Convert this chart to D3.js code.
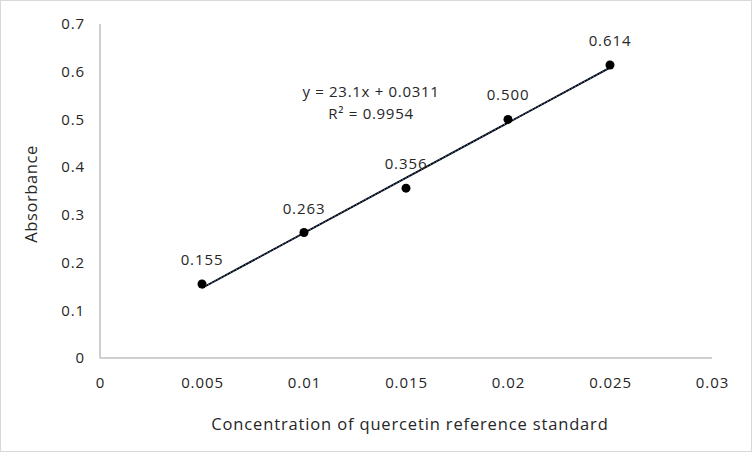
<!DOCTYPE html>
<html><head><meta charset="utf-8">
<script src="https://cdn.jsdelivr.net/npm/d3@7"></script>
<style>body{margin:0;background:#fff}svg{display:block}</style>
</head><body>
<svg id="c" width="752" height="452"></svg>
<script>
const concentrations = [0.005, 0.01, 0.015, 0.02, 0.025];
const absorbance = [0.155, 0.263, 0.356, 0.500, 0.614];
const pointLabels = ["0.155", "0.263", "0.356", "0.500", "0.614"];
const xTicks = [0, 0.005, 0.01, 0.015, 0.02, 0.025, 0.03];
const xTickLabels = ["0", "0.005", "0.01", "0.015", "0.02", "0.025", "0.03"];
const yTicks = [0, 0.1, 0.2, 0.3, 0.4, 0.5, 0.6, 0.7];
const yTickLabels = ["0", "0.1", "0.2", "0.3", "0.4", "0.5", "0.6", "0.7"];
const slope = 23.1, intercept = 0.0311;
const eqText = "y = 23.1x + 0.0311";
const r2Text = "R² = 0.9954";

const svg = d3.select("#c");
const font = "'Open Sans', 'Noto Sans', sans-serif";
const txt = "#262626";
svg.append("rect").attr("x",0.5).attr("y",0.5).attr("width",751).attr("height",451)
  .attr("fill","#fff").attr("stroke","#d9d9d9");

const x = d3.scaleLinear().domain([0,0.03]).range([100,712]);
const y = d3.scaleLinear().domain([0,0.7]).range([358,24]);

svg.append("line").attr("x1",100).attr("x2",100).attr("y1",y(0.7)).attr("y2",y(0))
  .attr("stroke","#bfbfbf").attr("stroke-width",1.5);
svg.append("line").attr("x1",x(0)).attr("x2",x(0.03)).attr("y1",358).attr("y2",358)
  .attr("stroke","#bfbfbf").attr("stroke-width",1.5);

svg.selectAll(".yt").data(yTicks).enter().append("text")
  .attr("x",85).attr("y",d=>y(d)).attr("dy","0.35em").attr("text-anchor","end")
  .attr("font-family",font).attr("font-size",15).attr("letter-spacing",0.9).attr("fill",txt)
  .text((d,i)=>yTickLabels[i]);
svg.selectAll(".xt").data(xTicks).enter().append("text")
  .attr("x",d=>x(d)+0.5).attr("y",388).attr("text-anchor","middle")
  .attr("font-family",font).attr("font-size",15).attr("letter-spacing",0.9).attr("fill",txt)
  .text((d,i)=>xTickLabels[i]);

svg.append("text").attr("x",410).attr("y",430).attr("text-anchor","middle")
  .attr("font-family",font).attr("font-size",16.5).attr("letter-spacing",0.85).attr("fill",txt)
  .text("Concentration of quercetin reference standard");
svg.append("text").attr("transform","translate(37,194) rotate(-90)").attr("text-anchor","middle")
  .attr("font-family",font).attr("font-size",16.5).attr("letter-spacing",0.6).attr("fill",txt)
  .text("Absorbance");

const x0 = concentrations[0], x1 = concentrations[concentrations.length-1];
const tl = [[x0, slope*x0+intercept],[x1, slope*x1+intercept]];
const line = d3.line().x(d=>x(d[0])).y(d=>y(d[1]));
svg.append("path").attr("d",line(tl)).attr("stroke","#000").attr("stroke-width",1.8).attr("fill","none");
svg.append("path").attr("d",line(tl)).attr("stroke","#4472c4").attr("stroke-width",1)
  .attr("stroke-dasharray","1.5,2").attr("fill","none");

svg.selectAll(".pt").data(concentrations).enter().append("circle")
  .attr("cx",d=>x(d)).attr("cy",(d,i)=>y(absorbance[i])).attr("r",4.5).attr("fill","#000");

svg.selectAll(".pl").data(concentrations).enter().append("text")
  .attr("x",d=>x(d)).attr("y",(d,i)=>y(absorbance[i])-19).attr("text-anchor","middle")
  .attr("font-family",font).attr("font-size",15).attr("letter-spacing",0.9).attr("fill",txt)
  .text((d,i)=>pointLabels[i]);

svg.append("text").attr("x",371).attr("y",97).attr("text-anchor","middle")
  .attr("font-family",font).attr("font-size",15).attr("letter-spacing",0.7).attr("fill",txt).text(eqText);
svg.append("text").attr("x",371).attr("y",119).attr("text-anchor","middle")
  .attr("font-family",font).attr("font-size",15).attr("letter-spacing",0.7).attr("fill",txt).text(r2Text);
</script>
</body></html>
